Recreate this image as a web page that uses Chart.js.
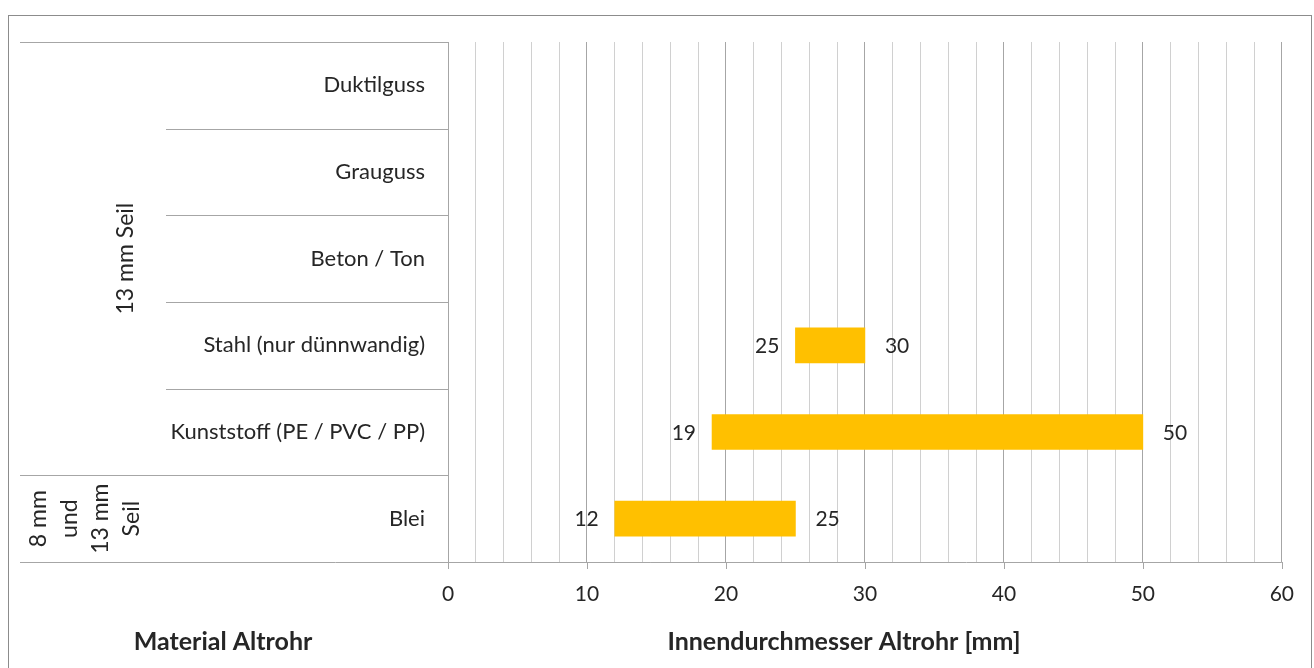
<!DOCTYPE html>
<html>
<head>
<meta charset="utf-8">
<script src="https://cdn.jsdelivr.net/npm/chart.js@4.4.1/dist/chart.umd.min.js"></script>
<style>
  html, body { margin: 0; padding: 0; background: #fff; }
  #wrap { width: 1314px; height: 668px; }
</style>
</head>
<body>
<div id="wrap"><canvas id="myChart" width="1314" height="668"></canvas></div>
<script>
// data
const materials = ['Duktilguss', 'Grauguss', 'Beton / Ton', 'Stahl (nur dünnwandig)', 'Kunststoff (PE / PVC / PP)', 'Blei'];
const minDiameter = [null, null, null, 25, 19, 12];
const maxDiameter = [null, null, null, 30, 50, 25];
const ropeGroups = [
    { lines: ['13 mm Seil'], from: 0, to: 4 },
    { lines: ['8 mm', 'und', '13 mm', 'Seil'], from: 5, to: 5 },
];
const xTicks = [0, 10, 20, 30, 40, 50, 60];

const FONT = 'Lato, "Open Sans", sans-serif';
const TEXT = '#262626';
const LINE = '#a6a6a6';

const decor = {
    id: 'decor',
    afterDraw: function (chart) {
        const ctx = chart.ctx;
        const area = chart.chartArea;
        const y = chart.scales.y;
        const x = chart.scales.x;
        const half = (y.getPixelForValue(1) - y.getPixelForValue(0)) / 2;
        ctx.save();

        // outer frame
        ctx.strokeStyle = '#8c8c8c';
        ctx.lineWidth = 1;
        ctx.strokeRect(8.5, 15.5, 1303, 700);

        // category separators in the label area
        ctx.strokeStyle = LINE;
        ctx.beginPath();
        for (let i = 0; i <= materials.length; i++) {
            const py = Math.round(i < materials.length ? y.getPixelForValue(i) - half : y.getPixelForValue(i - 1) + half) + 0.5;
            const isGroupEdge = ropeGroups.some(g => g.from === i || g.to + 1 === i);
            ctx.moveTo(isGroupEdge ? 20 : 166, py);
            ctx.lineTo(i === materials.length ? area.right : area.left, py);
        }
        // tick marks on the value axis
        xTicks.forEach(v => {
            const px = Math.round(x.getPixelForValue(v)) + 0.5;
            ctx.moveTo(px, area.bottom);
            ctx.lineTo(px, area.bottom + 7);
        });
        ctx.stroke();

        // group labels (rotated)
        ctx.fillStyle = TEXT;
        ctx.font = '23px ' + FONT;
        ctx.textAlign = 'center';
        ctx.textBaseline = 'middle';
        ropeGroups.forEach(g => {
            const cy = (y.getPixelForValue(g.from) + y.getPixelForValue(g.to)) / 2;
            const n = g.lines.length;
            const cx = n === 1 ? 126 : 85;
            g.lines.forEach((t, k) => {
                ctx.save();
                ctx.translate(cx + (k - (n - 1) / 2) * 31, cy);
                ctx.rotate(-Math.PI / 2);
                ctx.fillText(t, 0, 0);
                ctx.restore();
            });
        });

        // bar end labels
        ctx.font = '21px ' + FONT;
        const meta = chart.getDatasetMeta(0);
        meta.data.forEach((bar, i) => {
            if (minDiameter[i] == null) return;
            const left = Math.min(bar.x, bar.base);
            const right = Math.max(bar.x, bar.base);
            ctx.textAlign = 'right';
            ctx.fillText(String(minDiameter[i]), left - 16, bar.y + 1);
            ctx.textAlign = 'left';
            ctx.fillText(String(maxDiameter[i]), right + 20, bar.y + 1);
        });

        // axis titles
        ctx.font = 'bold 25px ' + FONT;
        ctx.textAlign = 'center';
        ctx.fillText('Material Altrohr', 223, 642);
        ctx.fillText('Innendurchmesser Altrohr [mm]', 844, 642);
        ctx.restore();
    }
};

const myChart = new Chart(document.getElementById('myChart'), {
    type: 'bar',
    data: {
        labels: materials,
        datasets: [{
            data: minDiameter.map((v, i) => v == null ? null : [v, maxDiameter[i]]),
            backgroundColor: '#FFC000',
            borderWidth: 0,
            barThickness: 35,
        }]
    },
    options: {
        indexAxis: 'y',
        responsive: false,
        animation: false,
        layout: { padding: { left: 20, top: 42, right: 26, bottom: 0 } },
        plugins: {
            legend: { display: false },
            tooltip: { enabled: false },
        },
        scales: {
            x: {
                min: 0,
                max: 60,
                afterFit: s => { s.height = 106; },
                border: { display: false },
                grid: {
                    drawTicks: false,
                    color: c => (c.tick && c.tick.value % 10 === 0) ? LINE : '#d0d0d0',
                },
                ticks: {
                    stepSize: 2,
                    autoSkip: false,
                    maxRotation: 0,
                    padding: 20,
                    color: TEXT,
                    font: { family: FONT, size: 21 },
                    callback: v => v % 10 === 0 ? String(v) : '',
                },
            },
            y: {
                afterFit: s => { s.width = 428; },
                border: { display: false },
                grid: { display: false, drawTicks: false },
                ticks: {
                    padding: 23,
                    color: TEXT,
                    font: { family: FONT, size: 22 },
                },
            },
        },
    },
    plugins: [decor],
});
</script>
</body>
</html>
